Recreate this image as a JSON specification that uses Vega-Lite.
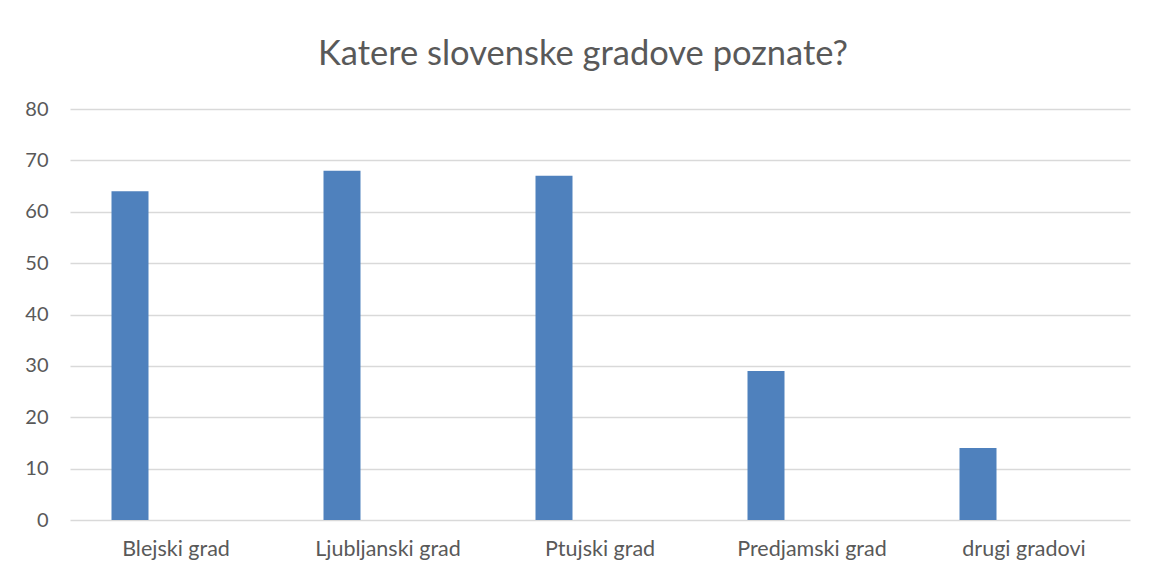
{
  "$schema": "https://vega.github.io/schema/vega-lite/v6.json",
  "autosize": {"type": "none"},
  "width": 1060,
  "height": 411,
  "padding": {"left": 70, "top": 109, "right": 22, "bottom": 56},
  "background": "white",
  "title": {
    "text": "Katere slovenske gradove poznate?",
    "font": "Lato",
    "fontSize": 34.5,
    "fontWeight": "normal",
    "color": "#595959",
    "anchor": "middle",
    "dx": -17,
    "offset": 27
  },
  "data": {
    "values": [
      {"grad": "Blejski grad", "stevilo": 64},
      {"grad": "Ljubljanski grad", "stevilo": 68},
      {"grad": "Ptujski grad", "stevilo": 67},
      {"grad": "Predjamski grad", "stevilo": 29},
      {"grad": "drugi gradovi", "stevilo": 14}
    ]
  },
  "mark": {"type": "bar", "color": "#4f81bd", "width": 37, "xOffset": -46},
  "encoding": {
    "x": {
      "field": "grad",
      "type": "nominal",
      "sort": null,
      "scale": {"paddingInner": 0, "paddingOuter": 0},
      "axis": {
        "title": null,
        "labelAngle": 0,
        "ticks": false,
        "domain": false,
        "grid": false,
        "labelFont": "Lato",
        "labelFontSize": 21.5,
        "labelColor": "#595959",
        "labelPadding": 18
      }
    },
    "y": {
      "field": "stevilo",
      "type": "quantitative",
      "scale": {"domain": [0, 80]},
      "axis": {
        "title": null,
        "values": [0, 10, 20, 30, 40, 50, 60, 70, 80],
        "ticks": false,
        "domain": false,
        "grid": true,
        "gridColor": "#d9d9d9",
        "gridWidth": 1.5,
        "labelFont": "Lato",
        "labelFontSize": 20,
        "labelColor": "#595959",
        "labelPadding": 22
      }
    }
  },
  "config": {"view": {"stroke": null}}
}
